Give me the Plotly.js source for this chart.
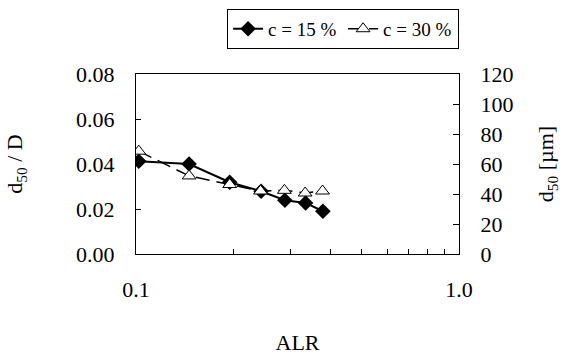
<!DOCTYPE html>
<html>
<head>
<meta charset="utf-8">
<script src="https://cdn.plot.ly/plotly-3.0.1.min.js"></script>
<style>html,body{margin:0;padding:0;background:#fff;}#chart{width:569px;height:355px;}</style>
</head>
<body>
<div id="chart"></div>
<script>
// Data
const alr15 = [0.102, 0.146, 0.195, 0.244, 0.289, 0.335, 0.379];
const ratio15 = [0.0412, 0.0400, 0.0319, 0.0279, 0.0239, 0.0227, 0.0190];
const alr30 = [0.102, 0.146, 0.195, 0.243, 0.288, 0.334, 0.378];
const ratio30 = [0.0457, 0.0347, 0.0309, 0.0280, 0.0283, 0.0271, 0.0280];
const seriesNames = ['c = 15 %', 'c = 30 %'];
const xTickVals = [0.1, 1.0];
const xTickText = ['0.1', '1.0'];
const xMinorVals = [0.2, 0.3, 0.4, 0.5, 0.6, 0.7, 0.8, 0.9];
const yTickVals = [0, 0.02, 0.04, 0.06, 0.08];
const yTickText = ['0.00', '0.02', '0.04', '0.06', '0.08'];
const y2TickVals = [0, 20, 40, 60, 80, 100, 120];

function f(size) { return {family: 'Liberation Serif', size: size, color: '#000'}; }

const traces = [
  {x: alr15, y: ratio15, name: seriesNames[0], type: 'scatter', mode: 'lines+markers',
   line: {color: '#000', width: 2},
   marker: {symbol: 'diamond', size: 12, color: '#000'}},
  {x: alr30, y: ratio30, name: seriesNames[1], type: 'scatter', mode: 'lines+markers',
   line: {color: '#000', width: 1.5, dash: '14px,7px'},
   marker: {symbol: 'triangle-up', size: 12, color: '#fff', line: {color: '#000', width: 1}}},
  {x: [alr15[0]], y: [null], yaxis: 'y2', showlegend: false, hoverinfo: 'skip', mode: 'markers', type: 'scatter'}
];

const layout = {
  width: 569, height: 355,
  margin: {l: 136, r: 110, t: 74, b: 101},
  paper_bgcolor: '#fff', plot_bgcolor: '#fff',
  font: f(22),
  showlegend: true,
  legend: {orientation: 'h', x: 0.282, xanchor: 'left', yref: 'container', y: 0.975, yanchor: 'top',
           bordercolor: '#000', borderwidth: 1, font: f(19), bgcolor: '#fff',
           itemwidth: 30, entrywidth: 70, tracegroupgap: 0},
  xaxis: {type: 'log', range: [-1, 0], tickvals: xTickVals, ticktext: xTickText,
          ticks: 'inside', ticklen: 5, tickcolor: '#000', showgrid: false, zeroline: false,
          minor: {tickvals: xMinorVals, ticks: 'inside', ticklen: 5, tickcolor: '#000', showgrid: false},
          showline: true, linecolor: '#000', linewidth: 1, mirror: true,
          tickfont: f(22), ticklabelstandoff: 16,
          title: {text: 'ALR', font: f(22), standoff: 36}},
  yaxis: {range: [0, 0.08], tickvals: yTickVals, ticktext: yTickText,
          ticks: 'inside', ticklen: 5, tickcolor: '#000', showgrid: false, zeroline: false,
          showline: true, linecolor: '#000', linewidth: 1,
          tickfont: f(22), ticklabelstandoff: 16,
          title: {text: 'd<sub>50</sub> / D', font: f(22), standoff: 47}},
  yaxis2: {range: [0, 120], tickvals: y2TickVals, overlaying: 'y', side: 'right',
           ticks: 'inside', ticklen: 6, tickcolor: '#000', showgrid: false, zeroline: false,
           showline: true, linecolor: '#000', linewidth: 1,
           tickfont: f(22), ticklabelstandoff: 16,
           title: {text: 'd<sub>50</sub> [µm]', font: f(22), standoff: 25}}
};

Plotly.newPlot('chart', traces, layout, {displayModeBar: false, staticPlot: true});
</script>
</body>
</html>
